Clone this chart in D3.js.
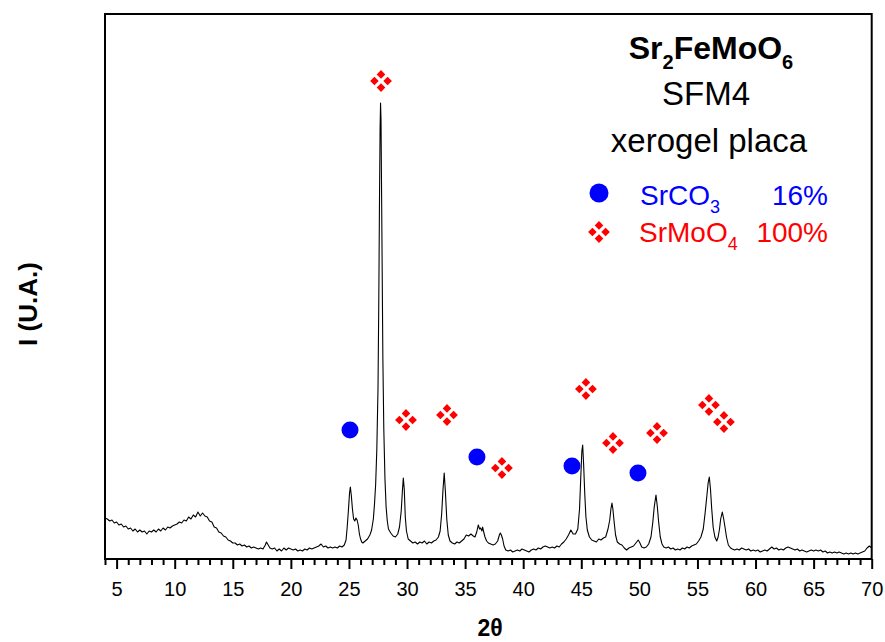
<!DOCTYPE html>
<html>
<head>
<meta charset="utf-8">
<script src="https://cdn.jsdelivr.net/npm/d3@7/dist/d3.min.js"></script>
<style>
  html, body { margin: 0; padding: 0; background: #fff; }
  svg { display: block; font-family: "Liberation Sans", Arial, sans-serif; }
</style>
</head>
<body>
<svg id="chart" width="885" height="642"></svg>
<script>
// ---- Data ----
const twoTheta = [
  4.0,4.2,4.4,4.6,4.8,5.0,5.2,5.4,5.6,5.8,6.0,6.2,6.4,6.6,6.8,7.0,7.2,7.4,7.6,7.8,
  8.0,8.2,8.4,8.6,8.8,9.0,9.2,9.4,9.6,9.8,10.0,10.2,10.4,10.6,10.8,11.0,11.2,11.4,11.6,11.8,
  12.0,12.2,12.4,12.6,12.8,13.0,13.2,13.4,13.6,13.8,14.0,14.2,14.4,14.6,14.8,15.0,15.2,15.4,15.6,15.8,
  16.0,16.2,16.4,16.6,16.8,17.0,17.2,17.4,17.6,17.8,17.9,18.0,18.2,18.4,18.6,18.8,19.0,19.2,19.4,19.6,19.8,
  20.0,20.2,20.4,20.6,20.8,21.0,21.2,21.4,21.6,21.8,22.0,22.2,22.4,22.6,22.8,23.0,23.2,23.4,23.6,23.8,
  24.0,24.2,24.4,24.6,24.75,24.85,24.95,25.05,25.12,25.2,25.3,25.4,25.5,25.6,25.7,25.8,25.9,26.0,26.1,26.2,
  26.4,26.6,26.8,26.95,27.1,27.2,27.3,27.4,27.5,27.57,27.63,27.68,27.72,27.76,27.8,27.86,27.92,28.0,28.1,28.2,
  28.3,28.4,28.6,28.8,29.0,29.2,29.35,29.5,29.6,29.68,29.76,29.85,29.95,30.1,30.3,30.5,30.7,30.9,31.1,31.3,
  31.5,31.7,31.9,32.1,32.3,32.5,32.7,32.85,32.98,33.1,33.2,33.3,33.42,33.55,33.7,33.9,34.1,34.3,34.5,34.7,
  34.9,35.1,35.3,35.5,35.7,35.85,36.0,36.13,36.25,36.34,36.45,36.51,36.6,36.71,36.85,37.0,37.2,37.4,37.6,37.8,
  37.95,38.03,38.12,38.23,38.35,38.5,38.7,38.9,39.1,39.3,39.5,39.7,39.9,40.1,40.3,40.5,40.7,40.9,41.1,41.3,
  41.5,41.7,41.9,42.1,42.3,42.5,42.7,42.9,43.1,43.3,43.5,43.7,43.9,44.1,44.3,44.5,44.7,44.85,44.95,45.05,
  45.12,45.2,45.3,45.4,45.52,45.7,45.9,46.1,46.3,46.5,46.7,46.9,47.1,47.3,47.45,47.55,47.64,47.72,47.82,47.95,
  48.1,48.3,48.5,48.7,48.9,49.1,49.3,49.5,49.7,49.9,50.05,50.2,50.4,50.6,50.8,51.0,51.15,51.28,51.43,51.55,
  51.65,51.8,51.95,52.1,52.3,52.5,52.7,52.9,53.1,53.3,53.5,53.7,53.9,54.1,54.3,54.5,54.7,54.9,55.1,55.3,
  55.5,55.65,55.8,55.92,56.02,56.12,56.23,56.35,56.5,56.66,56.78,56.9,57.0,57.14,57.26,57.37,57.5,57.66,57.85,58.0,
  58.2,58.4,58.6,58.8,59.0,59.2,59.4,59.6,59.8,60.0,60.2,60.4,60.6,60.8,61.0,61.2,61.4,61.6,61.8,62.0,
  62.2,62.4,62.6,62.8,63.0,63.2,63.4,63.6,63.8,64.0,64.2,64.4,64.6,64.8,65.0,65.2,65.4,65.6,65.8,66.0,
  66.2,66.4,66.6,66.8,67.0,67.2,67.4,67.6,67.8,68.0,68.2,68.4,68.6,68.8,69.0,69.2,69.4,69.6,69.8,70.0
];
const intensity = [
  41,40,38,39,36,37,34,35,32,33,30,31,28,30,27,29,27,28,25,28,
  27,29,27,30,28,31,29,32,31,33,34,35,37,36,39,38,42,40,44,42,
  47,43,46,43,42,38,37,32,31,27,26,23,22,19,18,16,16,14,15,13,
  14,12,13,11,12,11,10,11,10,14,17,15,11,10,11,8,10,8,11,9,11,
  10,9,10,8,9,8,10,9,11,10,11,12,13,15,12,13,11,12,11,12,
  11,13,12,14,19,32,48,66,72,64,50,40,38,41,39,34,25,20,17,16,
  18,20,24,29,40,55,75,110,170,260,360,430,456,440,380,290,200,130,80,52,
  38,30,26,23,22,25,32,48,68,81,70,42,28,20,18,16,17,15,17,16,
  18,15,17,16,18,19,22,28,45,70,86,68,40,24,18,16,15,17,16,18,
  20,24,23,25,23,22,27,34,30,31,28,32,27,22,18,16,15,14,15,18,
  24,26,24,20,13,9,8,9,7,8,9,8,10,9,8,7,9,10,9,11,
  10,12,13,12,11,12,11,13,12,15,17,20,24,29,25,25,30,50,80,108,
  114,95,65,42,29,22,19,18,17,20,19,21,22,30,39,50,56,50,38,24,
  17,15,14,11,9,11,12,13,16,19,16,12,11,12,15,22,36,52,64,52,
  38,22,15,12,11,12,10,11,9,10,9,11,10,12,11,13,14,15,18,22,
  30,45,62,76,82,70,50,32,22,18,22,30,40,47,40,32,22,14,11,10,
  9,10,9,11,10,9,10,8,9,8,9,7,8,9,8,10,12,10,11,9,
  10,9,11,12,11,10,9,10,8,9,8,7,8,9,8,9,8,9,7,8,
  6,7,6,7,6,7,6,5,6,5,6,5,6,5,6,7,8,11,13,11
];
const majorTicks = [5,10,15,20,25,30,35,40,45,50,55,60,65,70];
const srco3Pos = [25.09, 36.02, 44.2, 49.88];
const srco3Y = [129, 102, 93, 86];
const srmoo4Pos = [27.76, 29.91, 33.44, 38.17, 45.4, 47.73, 51.52, 55.99, 57.28];
const srmoo4Y = [478, 139, 144, 91, 170, 116, 126, 154, 137];

// ---- Layout ----
const svg = d3.select("#chart");
const L = 105, R = 871.7, T = 14, B = 559;
const x = d3.scaleLinear().domain([4, 70]).range([L, R]);
const y = d3.scaleLinear().domain([0, 545]).range([B, T]);

const pts = twoTheta.map((t, i) => [t, intensity[i]]);

// Curve
svg.append("path")
  .datum(pts)
  .attr("fill", "none")
  .attr("stroke", "#000")
  .attr("stroke-width", 1.1)
  .attr("stroke-linejoin", "round")
  .attr("d", d3.line().x(d => x(d[0])).y(d => y(d[1])));

// Frame
svg.append("rect")
  .attr("x", L).attr("y", T)
  .attr("width", R - L).attr("height", B - T)
  .attr("fill", "none").attr("stroke", "#000").attr("stroke-width", 2);

// Minor ticks
const minorVals = d3.range(4, 71, 1).filter(v => v % 5 !== 0);
const minorAxis = svg.append("g").attr("transform", `translate(0,${B})`)
  .call(d3.axisBottom(x).tickValues(minorVals).tickSize(6).tickFormat(""));
minorAxis.select(".domain").remove();
minorAxis.selectAll("line").attr("stroke-width", 2);

// Major ticks
const majorAxis = svg.append("g").attr("transform", `translate(0,${B})`)
  .call(d3.axisBottom(x).tickValues(majorTicks).tickSize(10).tickFormat(d3.format("d")));
majorAxis.select(".domain").remove();
majorAxis.selectAll("line").attr("stroke-width", 2);
majorAxis.selectAll("text")
  .attr("y", 37).attr("dy", null)
  .attr("font-size", 20)
  .attr("font-family", "Liberation Sans, Arial, sans-serif")
  .attr("fill", "#000");

// Axis titles
svg.append("text")
  .attr("x", 490).attr("y", 636)
  .attr("text-anchor", "middle")
  .attr("font-size", 23).attr("font-weight", "bold")
  .text("2θ");

svg.append("text")
  .attr("transform", "translate(37,304) rotate(-90)")
  .attr("text-anchor", "middle")
  .attr("font-size", 26).attr("font-weight", "bold")
  .text("I (U.A.)");

// Marker shapes
function quadDiamond(g, cx, cy, color) {
  const d = 6.6, h = 4.3;
  const offs = [[0, -d], [d, 0], [0, d], [-d, 0]];
  offs.forEach(o => {
    const px = cx + o[0], py = cy + o[1];
    g.append("path")
      .attr("d", `M${px},${py - h}L${px + h},${py}L${px},${py + h}L${px - h},${py}Z`)
      .attr("fill", color);
  });
}

const markers = svg.append("g");
srco3Pos.forEach((p, i) => {
  markers.append("circle")
    .attr("cx", x(p)).attr("cy", y(srco3Y[i]))
    .attr("r", 8.5).attr("fill", "#0000ff");
});
srmoo4Pos.forEach((p, i) => {
  quadDiamond(markers, x(p), y(srmoo4Y[i]), "#ff0000");
});

// Title block
const t1 = svg.append("text")
  .attr("x", 711).attr("y", 59)
  .attr("text-anchor", "middle")
  .attr("font-size", 32).attr("font-weight", "bold");
t1.append("tspan").text("Sr");
t1.append("tspan").attr("font-size", 20).attr("dy", 10).text("2");
t1.append("tspan").attr("dy", -10).text("FeMoO");
t1.append("tspan").attr("font-size", 20).attr("dy", 10).text("6");

svg.append("text")
  .attr("x", 706).attr("y", 105)
  .attr("text-anchor", "middle")
  .attr("font-size", 33)
  .text("SFM4");

svg.append("text")
  .attr("x", 709).attr("y", 152)
  .attr("text-anchor", "middle")
  .attr("font-size", 33)
  .text("xerogel placa");

// Legend
svg.append("circle").attr("cx", 599).attr("cy", 193).attr("r", 9.5).attr("fill", "#0000ff");
quadDiamond(svg, 599, 232, "#ff0000");

const l1 = svg.append("text").attr("x", 640).attr("y", 205)
  .attr("font-size", 28).attr("fill", "#0000ff");
l1.append("tspan").text("SrCO");
l1.append("tspan").attr("font-size", 18).attr("dy", 8).text("3");
svg.append("text").attr("x", 828).attr("y", 205).attr("text-anchor", "end")
  .attr("font-size", 28).attr("fill", "#0000ff").text("16%");

const l2 = svg.append("text").attr("x", 639).attr("y", 242)
  .attr("font-size", 28).attr("fill", "#ff0000");
l2.append("tspan").text("SrMoO");
l2.append("tspan").attr("font-size", 18).attr("dy", 8).text("4");
svg.append("text").attr("x", 828).attr("y", 242).attr("text-anchor", "end")
  .attr("font-size", 28).attr("fill", "#ff0000").text("100%");
</script>
</body>
</html>
